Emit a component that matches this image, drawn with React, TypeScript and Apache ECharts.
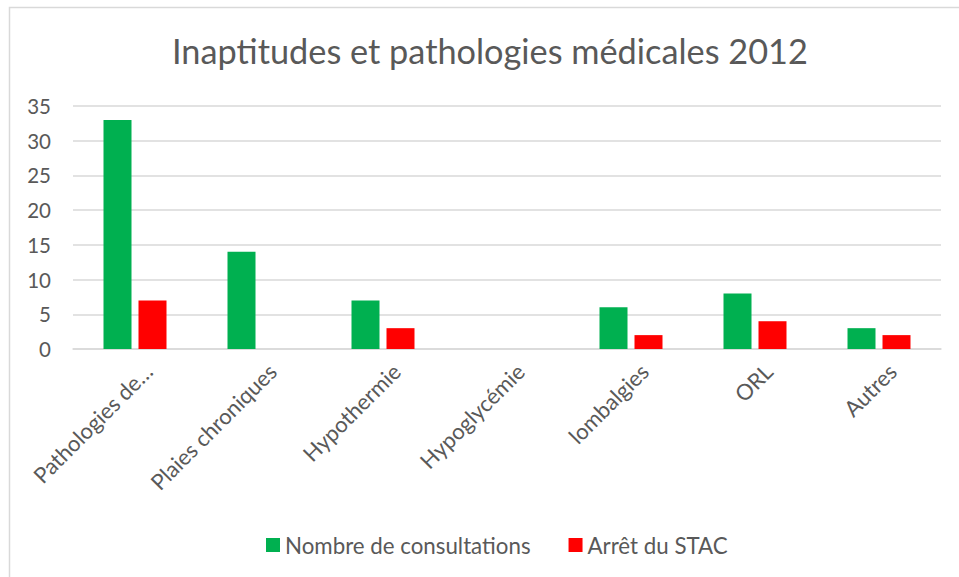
import React, { useEffect, useRef } from "react";
import * as echarts from "echarts";

const categories = ["Pathologies de…", "Plaies chroniques", "Hypothermie", "Hypoglycémie", "lombalgies", "ORL", "Autres"];
const consultations = [33, 14, 7, 0, 6, 8, 3];
const arretStac = [7, 0, 3, 0, 2, 4, 2];
const yTicks = { min: 0, max: 35, interval: 5 };

const FONT = "Lato, 'Open Sans', sans-serif";
const TEXT = "#595959";

export default function App() {
  const ref = useRef<HTMLDivElement>(null);
  useEffect(() => {
    document.body.style.margin = "0";
    const chart = echarts.init(ref.current!, null, { renderer: "svg" });
    chart.setOption({
      animation: false,
      backgroundColor: "#ffffff",
      textStyle: { fontFamily: FONT },
      title: {
        text: "Inaptitudes et pathologies médicales 2012",
        left: 172,
        top: 33,
        padding: 0,
        textStyle: { fontFamily: FONT, fontSize: 34.3, fontWeight: "normal", color: TEXT },
      },
      graphic: [
        {
          type: "rect",
          shape: { x: 9.5, y: 7.5, width: 1200, height: 1200 },
          style: { fill: "none", stroke: "#d9d9d9", lineWidth: 1.5 },
          silent: true,
        },
      ],
      legend: {
        bottom: 21,
        left: 266,
        padding: 0,
        itemWidth: 14,
        itemHeight: 14,
        itemGap: 38,
        icon: "rect",
        textStyle: { fontFamily: FONT, fontSize: 22.3, color: TEXT },
        data: ["Nombre de consultations", "Arrêt du STAC"],
      },
      grid: { left: 73, right: 18, top: 106, bottom: 228, containLabel: false },
      xAxis: {
        type: "category",
        data: categories,
        axisLine: { lineStyle: { color: "#d9d9d9", width: 1.5 } },
        axisTick: { show: false },
        axisLabel: {
          rotate: 45,
          interval: 0,
          fontFamily: FONT,
          fontSize: 22,
          color: TEXT,
          margin: 5,
          verticalAlign: "top",
          padding: [8, 0, 0, 0],
        },
      },
      yAxis: {
        type: "value",
        min: yTicks.min,
        max: yTicks.max,
        interval: yTicks.interval,
        axisLine: { show: false },
        axisTick: { show: false },
        splitLine: { lineStyle: { color: "#d9d9d9", width: 1.5 } },
        axisLabel: { fontFamily: FONT, fontSize: 20.5, color: TEXT, margin: 22 },
      },
      series: [
        {
          name: "Nombre de consultations",
          type: "bar",
          data: consultations,
          itemStyle: { color: "#00b050" },
          barWidth: 28,
          barGap: "25%",
        },
        {
          name: "Arrêt du STAC",
          type: "bar",
          data: arretStac,
          itemStyle: { color: "#ff0000" },
          barWidth: 28,
          barGap: "25%",
        },
      ],
    });
    return () => chart.dispose();
  }, []);
  return <div ref={ref} style={{ width: 959, height: 577 }} />;
}
